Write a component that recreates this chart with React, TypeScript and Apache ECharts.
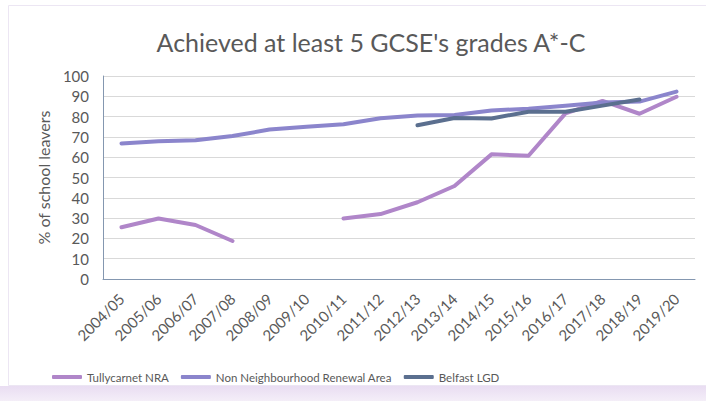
import React, { useEffect, useRef } from "react";
import * as echarts from "echarts";

const categories = ["2004/05","2005/06","2006/07","2007/08","2008/09","2009/10","2010/11","2011/12","2012/13","2013/14","2014/15","2015/16","2016/17","2017/18","2018/19","2019/20"];
const tullycarnet = [25.5, 29.8, 26.6, 18.7, null, null, 29.8, 32, 37.8, 45.8, 61.4, 60.7, 81.6, 87.7, 81.4, 89.8];
const nonNRA = [66.8, 67.8, 68.3, 70.4, 73.6, 75, 76.2, 79.2, 80.5, 80.8, 83, 83.9, 85.4, 86.9, 87.4, 92.3];
const belfast = [null, null, null, null, null, null, null, null, 75.7, 79.3, 79.1, 82.4, 82.4, 85.4, 88.4, null];
const yTicks = { min: 0, max: 100, interval: 10 };

const FONT = "Lato";
const TXT = "#595959";

export default function App() {
  const ref = useRef<HTMLDivElement>(null);
  useEffect(() => {
    const chart = echarts.init(ref.current!, null, { renderer: "svg" });
    const mk = (name: string, data: (number | null)[], color: string) => ({
      name,
      type: "line",
      data,
      symbol: "none",
      connectNulls: false,
      lineStyle: { width: 4, color, cap: "round", join: "round" },
      itemStyle: { color },
    });
    chart.setOption({
      animation: false,
      backgroundColor: "#ffffff",
      graphic: [
        {
          type: "rect",
          shape: { x: 8.5, y: 5.5, width: 720, height: 380 },
          style: { fill: "#ffffff", stroke: "#ECE6F3", lineWidth: 1 },
          z: -10,
        },
        {
          type: "rect",
          shape: { x: 0, y: 386, width: 706, height: 15 },
          style: {
            fill: new echarts.graphic.LinearGradient(0, 0, 0, 1, [
              { offset: 0, color: "#E9DDF2" },
              { offset: 1, color: "#F4EEF8" },
            ]),
          },
          z: -10,
        },
      ],
      title: {
        text: "Achieved at least 5 GCSE's grades A*-C",
        left: 366,
        top: 24,
        textAlign: "center",
        textStyle: { fontFamily: FONT, fontSize: 25, fontWeight: "normal", color: TXT },
      },
      legend: {
        left: 47,
        top: 366,
        itemWidth: 30,
        itemHeight: 4,
        itemGap: 12,
        icon: "roundRect",
        textStyle: { fontFamily: FONT, fontSize: 11.5, color: TXT },
        data: ["Tullycarnet NRA", "Non Neighbourhood Renewal Area", "Belfast LGD"],
      },
      grid: { left: 103, right: 11, top: 76, bottom: 122, containLabel: false },
      xAxis: {
        type: "category",
        data: categories,
        boundaryGap: true,
        axisLine: { show: true, lineStyle: { color: "#8497B0", width: 1 } },
        axisTick: { show: false },
        axisLabel: { rotate: 45, fontFamily: FONT, fontSize: 15, color: TXT, margin: 17, interval: 0 },
      },
      yAxis: {
        type: "value",
        min: yTicks.min,
        max: yTicks.max,
        interval: yTicks.interval,
        name: "% of school leavers",
        nameLocation: "middle",
        nameRotate: 90,
        nameGap: 52,
        nameTextStyle: { fontFamily: FONT, fontSize: 16, color: TXT },
        axisLine: { show: true, lineStyle: { color: "#8497B0", width: 1 } },
        axisTick: { show: false },
        splitLine: { lineStyle: { color: "#D9D9D9", width: 1 } },
        axisLabel: { fontFamily: FONT, fontSize: 15, color: TXT, margin: 14 },
      },
      series: [
        mk("Tullycarnet NRA", tullycarnet, "#B086C9"),
        mk("Non Neighbourhood Renewal Area", nonNRA, "#8B85CC"),
        mk("Belfast LGD", belfast, "#5B6F8F"),
      ],
    });
    return () => chart.dispose();
  }, []);
  return <div ref={ref} style={{ position: "fixed", left: 0, top: 0, width: 706, height: 401 }} />;
}
